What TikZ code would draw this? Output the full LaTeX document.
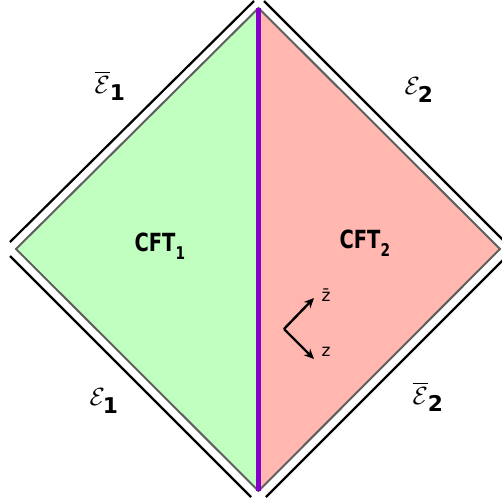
\documentclass[tikz,border=0pt]{standalone}
\usepackage{fontspec}
\usepackage{amsmath}
\usetikzlibrary{arrows.meta}
\newfontfamily\labfont{DejaVu Sans}
\newcommand{\bsub}[1]{\text{\labfont\bfseries #1}}
\definecolor{leftgreen}{RGB}{192,255,192}
\definecolor{rightpink}{RGB}{255,183,176}
\definecolor{edgegray}{RGB}{95,95,95}
\definecolor{axispurple}{RGB}{130,0,200}
\tikzset{
  region/.style={draw=edgegray, line width=2pt, line join=miter},
  outerline/.style={draw=black, line width=2.2pt},
  elabel/.style={font=\fontsize{31}{34}\selectfont, inner sep=0pt},
  cftlabel/.style={font=\labfont\bfseries\fontsize{25}{28}\selectfont, inner sep=0pt},
  arrowline/.style={draw=black, line width=2.4pt, -{Stealth[length=10pt,width=9pt]}},
  zlabel/.style={font=\labfont\fontsize{17}{19}\selectfont, inner sep=0pt}
}
\begin{document}
\begin{tikzpicture}[x=1pt,y=-1pt]
\useasboundingbox (0,0) rectangle (502,504);
\coordinate (T) at (258.5,8);
\coordinate (L) at (16,249);
\coordinate (B) at (258.5,491);
\coordinate (R) at (500,249);
\fill[leftgreen] (T) -- (L) -- (B) -- cycle;
\fill[rightpink] (T) -- (R) -- (B) -- cycle;
\draw[region] (T) -- (L) -- (B) -- (R) -- cycle;
\draw[axispurple, line width=4.5pt] (T) -- (B);
% outer boundary lines
\coordinate (ula) at (10,242);
\coordinate (ulb) at (254,1);
\coordinate (ura) at (264,1);
\coordinate (urb) at (506,243);
\coordinate (lla) at (10,256);
\coordinate (llb) at (251,497);
\coordinate (lra) at (266,497);
\coordinate (lrb) at (506,257);
\draw[outerline] (ula) -- (ulb);
\draw[outerline] (ura) -- (urb);
\draw[outerline] (lla) -- (llb);
\draw[outerline] (lra) -- (lrb);
% labels
\node[elabel] (ebar1) at (110,86) {$\overline{\mathcal{E}}_{\bsub{1}}$};
\node[elabel] (e2) at (419,90) {$\mathcal{E}_{\bsub{2}}$};
\node[elabel] (e1) at (104,401) {$\mathcal{E}_{\bsub{1}}$};
\node[elabel] (ebar2) at (428,397) {$\overline{\mathcal{E}}_{\bsub{2}}$};
\node[cftlabel] (cft1) at (160,246) {\scalebox{0.78}[1]{CFT\textsubscript{\raisebox{-0.5ex}{1}}}};
\node[cftlabel] (cft2) at (365,243) {\scalebox{0.78}[1]{CFT\textsubscript{\raisebox{-0.5ex}{2}}}};
% z arrows
\coordinate (O) at (284,329);
\coordinate (zb) at (314,298);
\coordinate (zz) at (314,359);
\draw[arrowline] (O) -- (zb);
\draw[arrowline] (O) -- (zz);
\node[zlabel] (zbl) at (326,295) {z̄};
\node[zlabel] (zl) at (326,352) {z};
\end{tikzpicture}
\end{document}
